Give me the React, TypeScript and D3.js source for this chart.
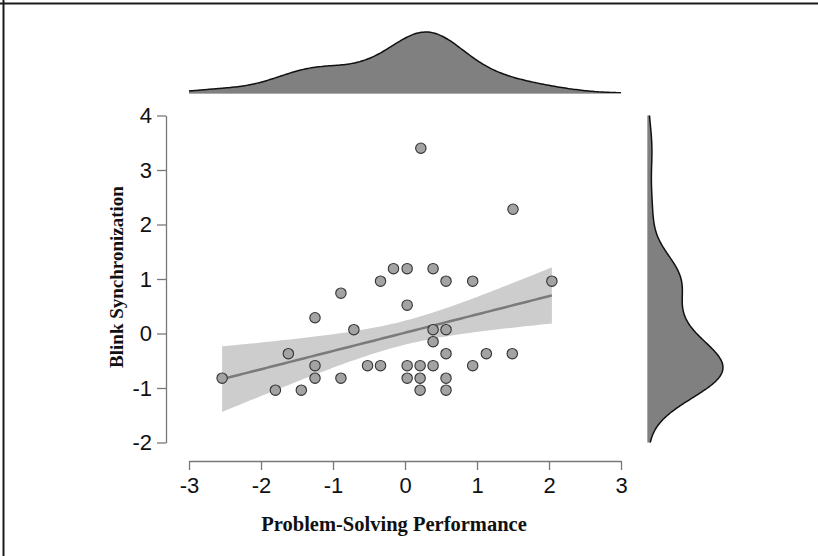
import React, { useEffect, useRef } from "react";
import * as d3 from "d3";

// Problem-solving performance (x) and blink synchronization (y) per dyad
const performance = [
  0.22, 1.5, -0.16, 0.03, 0.39, -0.34, 0.57, 0.94, 2.04, -0.89, 0.03, -1.25, -0.71,
  0.39, 0.57, 0.39, -1.62, 0.57, 1.13, 1.49, -1.25, -0.52, -0.34, 0.03, 0.21, 0.39,
  0.94, -2.54, -1.25, -0.89, 0.03, 0.21, 0.57, -1.8, -1.44, 0.21, 0.57,
];
const blinkSync = [
  3.4, 2.28, 1.19, 1.19, 1.19, 0.96, 0.96, 0.96, 0.96, 0.74, 0.52, 0.29, 0.07,
  0.07, 0.07, -0.15, -0.37, -0.37, -0.37, -0.37, -0.59, -0.59, -0.59, -0.59, -0.59, -0.59,
  -0.59, -0.82, -0.82, -0.82, -0.82, -0.82, -0.82, -1.04, -1.04, -1.04, -1.04,
];
const xTicks = [-3, -2, -1, 0, 1, 2, 3];
const yTicks = [-2, -1, 0, 1, 2, 3, 4];
// width of the shaded band, in standard errors of the fit
const bandSE = 1.38;

const W = 818;
const H = 556;

// gaussian kde with R's bw.nrd0
const kde = (values, grid) => {
  const n = values.length;
  const sorted = [...values].sort(d3.ascending);
  const sd = d3.deviation(values);
  const iqr = d3.quantileSorted(sorted, 0.75) - d3.quantileSorted(sorted, 0.25);
  const bw = 0.9 * Math.min(sd, iqr / 1.34) * Math.pow(n, -0.2);
  return grid.map((g) => [
    g,
    d3.sum(values, (v) => Math.exp(-0.5 * ((g - v) / bw) ** 2)) / (n * bw * Math.sqrt(2 * Math.PI)),
  ]);
};

export default function App() {
  const svgRef = useRef(null);

  useEffect(() => {
    const svg = d3.select(svgRef.current);
    svg.selectAll("*").remove();

    const x = d3.scaleLinear().domain([-3, 3]).range([189, 621]);
    const y = d3.scaleLinear().domain([-2, 4]).range([442.5, 115.5]);

    // frame (top and left edges)
    svg.append("line").attr("x1", 0).attr("x2", W).attr("y1", 3.5).attr("y2", 3.5)
      .attr("stroke", "#1a1a1a").attr("stroke-width", 2);
    svg.append("line").attr("x1", 3.5).attr("x2", 3.5).attr("y1", 0).attr("y2", H)
      .attr("stroke", "#1a1a1a").attr("stroke-width", 2);

    // regression line + band
    const n = performance.length;
    const mx = d3.mean(performance);
    const my = d3.mean(blinkSync);
    const sxx = d3.sum(performance, (v) => (v - mx) ** 2);
    const sxy = d3.sum(performance, (v, i) => (v - mx) * (blinkSync[i] - my));
    const slope = sxy / sxx;
    const icpt = my - slope * mx;
    const s = Math.sqrt(d3.sum(performance, (v, i) => (blinkSync[i] - icpt - slope * v) ** 2) / (n - 2));
    const [x0, x1] = d3.extent(performance);
    const grid = d3.range(0, 81).map((i) => x0 + ((x1 - x0) * i) / 80);
    const band = grid.map((g) => {
      const fit = icpt + slope * g;
      const se = s * Math.sqrt(1 / n + (g - mx) ** 2 / sxx);
      return { g, fit, lo: fit - bandSE * se, hi: fit + bandSE * se };
    });

    svg.append("path")
      .datum(band)
      .attr("d", d3.area().x((d) => x(d.g)).y0((d) => y(d.lo)).y1((d) => y(d.hi)))
      .attr("fill", "#cdcdcd");
    svg.append("path")
      .datum(band)
      .attr("d", d3.line().x((d) => x(d.g)).y((d) => y(d.fit)))
      .attr("fill", "none").attr("stroke", "#7a7a7a").attr("stroke-width", 2.5);

    // points
    svg.append("g").selectAll("circle")
      .data(performance)
      .join("circle")
      .attr("cx", (d) => x(d))
      .attr("cy", (d, i) => y(blinkSync[i]))
      .attr("r", 5.2)
      .attr("fill", "#a3a3a3")
      .attr("stroke", "#333")
      .attr("stroke-width", 1.1);

    // axes
    const axisColor = "#777";
    const fmt = (d) => String(d);
    const gx = svg.append("g").attr("transform", "translate(0,461)")
      .attr("font-size", 22)
      .call(d3.axisBottom(x).tickValues(xTicks).tickFormat(fmt).tickSize(9).tickSizeOuter(0).tickPadding(7));
    const gy = svg.append("g").attr("transform", "translate(166,0)")
      .call(d3.axisLeft(y).tickValues(yTicks).tickFormat(fmt).tickSize(9).tickSizeOuter(0).tickPadding(5));
    [gx, gy].forEach((g) => {
      g.attr("font-size", 22).attr("font-family", "'Liberation Sans', Arial, sans-serif");
      g.select(".domain").attr("stroke", axisColor).attr("stroke-width", 1.3);
      g.selectAll(".tick line").attr("stroke", axisColor).attr("stroke-width", 1.3);
      g.selectAll(".tick text")
        .attr("fill", "#111")
        .style("font-size", "22px")
        .style("font-family", "'Liberation Sans', Arial, sans-serif");
    });

    svg.append("text")
      .attr("x", 394).attr("y", 531)
      .attr("text-anchor", "middle")
      .attr("font-family", "'Liberation Serif', 'Times New Roman', serif")
      .attr("font-weight", "bold").attr("font-size", 20.5)
      .attr("fill", "#111")
      .text("Problem-Solving Performance");
    svg.append("text")
      .attr("transform", "translate(123,277) rotate(-90)")
      .attr("text-anchor", "middle")
      .attr("font-family", "'Liberation Serif', 'Times New Roman', serif")
      .attr("font-weight", "bold").attr("font-size", 19)
      .attr("fill", "#111")
      .text("Blink Synchronization");

    // top marginal density (x)
    const topDens = kde(performance, d3.range(0, 241).map((i) => -3 + (6 * i) / 240));
    const topH = d3.scaleLinear().domain([0, d3.max(topDens, (d) => d[1])]).range([93, 32]);
    svg.append("path")
      .datum(topDens)
      .attr("d", d3.area().curve(d3.curveBasis).x((d) => x(d[0])).y0(93).y1((d) => topH(d[1])))
      .attr("fill", "#808080");
    svg.append("path")
      .datum(topDens)
      .attr("d", d3.line().curve(d3.curveBasis).x((d) => x(d[0])).y((d) => topH(d[1])))
      .attr("fill", "none").attr("stroke", "#111").attr("stroke-width", 1.5);
    svg.append("line").attr("x1", x(-3)).attr("x2", x(3)).attr("y1", 93.5).attr("y2", 93.5)
      .attr("stroke", "#aaa").attr("stroke-width", 1);

    // right marginal density (y)
    const rightDens = kde(blinkSync, d3.range(0, 241).map((i) => -2 + (6 * i) / 240));
    const rightW = d3.scaleLinear().domain([0, d3.max(rightDens, (d) => d[1])]).range([648, 723]);
    svg.append("path")
      .datum(rightDens)
      .attr("d", d3.area().curve(d3.curveBasis).y((d) => y(d[0])).x0(648).x1((d) => rightW(d[1])))
      .attr("fill", "#808080");
    svg.append("path")
      .datum(rightDens)
      .attr("d", d3.line().curve(d3.curveBasis).y((d) => y(d[0])).x((d) => rightW(d[1])))
      .attr("fill", "none").attr("stroke", "#111").attr("stroke-width", 1.5);
    svg.append("line").attr("x1", 647.5).attr("x2", 647.5).attr("y1", y(-2)).attr("y2", y(4))
      .attr("stroke", "#aaa").attr("stroke-width", 1);
  }, []);

  return (
    <div style={{ position: "absolute", left: 0, top: 0, width: W, height: H, background: "#fff" }}>
      <svg ref={svgRef} width={W} height={H}></svg>
    </div>
  );
}
